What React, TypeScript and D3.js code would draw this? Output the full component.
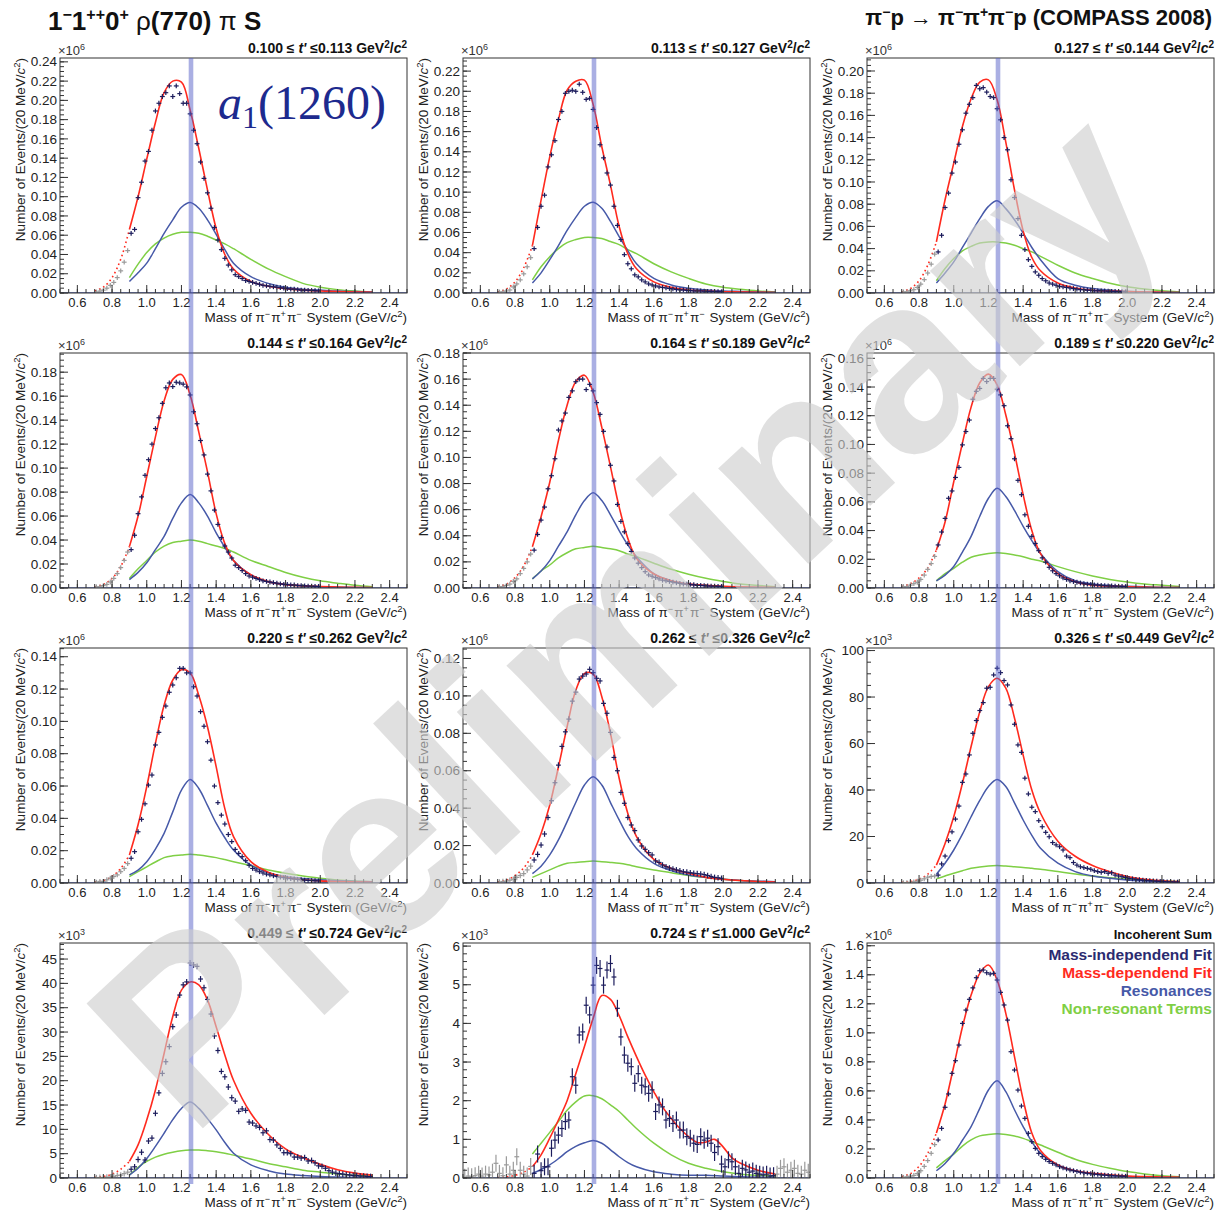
import React from "react";
import * as d3 from "d3";

// ---- layout ----
const W = 1215;
const H = 1210;
const COL_X = [60, 463, 867];
const ROW_Y = [58, 353, 648, 943];
const PW = 347;
const PH = 235;
const X_DOMAIN = [0.5, 2.5];
const BAND_MASS = 1.255;

const FONT = "'Liberation Sans', Arial, Helvetica, sans-serif";
const C_POINT = "#1c1c5c";
const C_GRAY = "#9a9a9a";
const C_RED = "#ff2a1e";
const C_BLUE = "#4659a8";
const C_GREEN = "#7fcf45";

// ---- t' bins (GeV^2/c^2) ----
const tLow = ["0.100", "0.113", "0.127", "0.144", "0.164", "0.189", "0.220", "0.262", "0.326", "0.449", "0.724"];
const tHigh = ["0.113", "0.127", "0.144", "0.164", "0.189", "0.220", "0.262", "0.326", "0.449", "0.724", "1.000"];

// ---- y axes ----
const yMax = [0.244, 0.233, 0.2117, 0.196, 0.18, 0.1637, 0.1454, 0.1256, 101.1, 48.3, 6.08, 1.619];
const yStep = [0.02, 0.02, 0.02, 0.02, 0.02, 0.02, 0.02, 0.02, 20, 5, 1, 0.2];
const yMinorDiv = [4, 4, 4, 4, 4, 4, 4, 4, 4, 5, 5, 4];
const yDecimals = [2, 2, 2, 2, 2, 2, 2, 2, 0, 0, 0, 1];
const yExponent = ["6", "6", "6", "6", "6", "6", "6", "6", "3", "3", "3", "6"];

// ---- x axis ticks ----
const xMajor = [0.6, 0.8, 1.0, 1.2, 1.4, 1.6, 1.8, 2.0, 2.2, 2.4];
const xMinorStep = 0.05;

// ---- mass-independent fit: 20 MeV bins, first bin centre per panel ----
const pointStart = [0.71, 0.71, 0.71, 0.71, 0.71, 0.71, 0.71, 0.71, 0.71, 0.71, 0.51, 0.71];
const pointError = [0.0015, 0.0015, 0.0015, 0.0015, 0.0015, 0.0015, 0.0015, 0.0015, 1.0, 0.6, 0.22, 0.01];

const massIndependent = [
  [0.001, 0.002, 0.003, 0.005, 0.008, 0.011, 0.016, 0.023, 0.032, 0.044,
    0.062, 0.066, 0.099, 0.115, 0.137, 0.147, 0.169, 0.189, 0.197, 0.204,
    0.208, 0.215, 0.204, 0.215, 0.207, 0.197, 0.197, 0.186, 0.169, 0.155,
    0.136, 0.119, 0.104, 0.088, 0.068, 0.055, 0.045, 0.036, 0.029, 0.024,
    0.019, 0.017, 0.015, 0.013, 0.012, 0.011, 0.01, 0.009, 0.008, 0.0075,
    0.007, 0.0065, 0.006, 0.0055, 0.005, 0.0045, 0.004, 0.004, 0.0035, 0.003,
    0.003, 0.0028, 0.0026, 0.0024, 0.0022],
  [0.001, 0.001, 0.002, 0.003, 0.006, 0.009, 0.013, 0.019, 0.026, 0.035,
    0.044, 0.065, 0.086, 0.097, 0.125, 0.137, 0.151, 0.172, 0.18, 0.198,
    0.2, 0.201, 0.2, 0.207, 0.199, 0.192, 0.193, 0.182, 0.164, 0.147,
    0.134, 0.119, 0.107, 0.086, 0.067, 0.053, 0.038, 0.029, 0.024, 0.018,
    0.016, 0.013, 0.011, 0.009, 0.008, 0.007, 0.006, 0.0055, 0.005, 0.0045,
    0.004, 0.0035, 0.003, 0.003, 0.0025, 0.0025, 0.002, 0.002, 0.002, 0.0018,
    0.0016, 0.0015, 0.0014, 0.0013, 0.0012],
  [0.001, 0.001, 0.002, 0.003, 0.005, 0.008, 0.012, 0.018, 0.026, 0.035,
    0.037, 0.052, 0.077, 0.09, 0.108, 0.118, 0.134, 0.147, 0.162, 0.17,
    0.176, 0.187, 0.184, 0.185, 0.181, 0.177, 0.176, 0.166, 0.156, 0.14,
    0.129, 0.102, 0.086, 0.067, 0.052, 0.039, 0.03, 0.024, 0.019, 0.016,
    0.013, 0.011, 0.009, 0.008, 0.007, 0.006, 0.0055, 0.005, 0.0045, 0.004,
    0.0035, 0.003, 0.003, 0.0025, 0.0025, 0.002, 0.002, 0.002, 0.0018, 0.0016,
    0.0015, 0.0014, 0.0013, 0.0012, 0.0011],
  [0.001, 0.001, 0.002, 0.003, 0.005, 0.008, 0.012, 0.017, 0.023, 0.03,
    0.032, 0.044, 0.062, 0.076, 0.094, 0.107, 0.12, 0.133, 0.142, 0.154,
    0.167, 0.171, 0.168, 0.1716, 0.171, 0.17, 0.1677, 0.161, 0.147, 0.137,
    0.123, 0.111, 0.095, 0.081, 0.065, 0.053, 0.042, 0.035, 0.03, 0.025,
    0.019, 0.017, 0.0145, 0.012, 0.01, 0.009, 0.008, 0.007, 0.006, 0.0055,
    0.005, 0.0045, 0.004, 0.0035, 0.003, 0.003, 0.0025, 0.0025, 0.002, 0.002,
    0.0018, 0.0016, 0.0015, 0.0014, 0.0013],
  [0.001, 0.001, 0.002, 0.003, 0.005, 0.007, 0.011, 0.015, 0.02, 0.026,
    0.029, 0.041, 0.052, 0.062, 0.076, 0.086, 0.099, 0.121, 0.128, 0.134,
    0.146, 0.151, 0.158, 0.16, 0.16, 0.152, 0.156, 0.151, 0.142, 0.133,
    0.12, 0.108, 0.094, 0.082, 0.064, 0.051, 0.043, 0.034, 0.028, 0.023,
    0.019, 0.0156, 0.0125, 0.01, 0.009, 0.008, 0.007, 0.006, 0.0055, 0.005,
    0.0045, 0.004, 0.0035, 0.003, 0.003, 0.0025, 0.0025, 0.002, 0.002, 0.0018,
    0.0016, 0.0015, 0.0014, 0.0013, 0.0012],
  [0.001, 0.001, 0.002, 0.003, 0.004, 0.006, 0.009, 0.013, 0.017, 0.022,
    0.03, 0.039, 0.0485, 0.0625, 0.0676, 0.077, 0.084, 0.0997, 0.109, 0.117,
    0.1315, 0.137, 0.139, 0.146, 0.1438, 0.146, 0.146, 0.1385, 0.1345, 0.127,
    0.113, 0.104, 0.09, 0.075, 0.065, 0.051, 0.043, 0.036, 0.031, 0.026,
    0.021, 0.018, 0.0144, 0.012, 0.01, 0.0085, 0.007, 0.006, 0.005, 0.0045,
    0.004, 0.0035, 0.003, 0.0027, 0.0025, 0.0022, 0.002, 0.0018, 0.0016, 0.0015,
    0.0014, 0.0013, 0.0012, 0.0011, 0.001],
  [0.0005, 0.001, 0.001, 0.002, 0.003, 0.004, 0.005, 0.007, 0.009, 0.012,
    0.0153, 0.0194, 0.0317, 0.0394, 0.049, 0.0606, 0.0668, 0.0854, 0.0932, 0.1025,
    0.1095, 0.118, 0.1225, 0.127, 0.1328, 0.1328, 0.13, 0.13, 0.1214, 0.1157,
    0.106, 0.097, 0.0874, 0.076, 0.06, 0.0497, 0.042, 0.0365, 0.03, 0.0256,
    0.0208, 0.0183, 0.0163, 0.0138, 0.011, 0.009, 0.008, 0.007, 0.0062, 0.0055,
    0.005, 0.0045, 0.004, 0.0036, 0.0033, 0.003, 0.0027, 0.0025, 0.0022, 0.002,
    0.0018, 0.0016, 0.0015, 0.0014, 0.0013],
  [0.0005, 0.0008, 0.001, 0.0015, 0.002, 0.003, 0.004, 0.005, 0.007, 0.009,
    0.0123, 0.0153, 0.0203, 0.0262, 0.035, 0.044, 0.0536, 0.063, 0.073, 0.0808,
    0.0876, 0.0972, 0.102, 0.109, 0.1106, 0.1117, 0.1142, 0.1124, 0.1094, 0.108,
    0.096, 0.0907, 0.0805, 0.0671, 0.06, 0.0484, 0.0426, 0.035, 0.031, 0.028,
    0.023, 0.0198, 0.018, 0.0162, 0.015, 0.0118, 0.011, 0.0096, 0.0087, 0.008,
    0.0075, 0.007, 0.0065, 0.006, 0.0058, 0.0055, 0.0052, 0.005, 0.0048, 0.0045,
    0.004, 0.0035, 0.003, 0.0028, 0.0025],
  [0.1, 0.2, 0.3, 0.5, 0.8, 1.2, 1.8, 2.5, 2.8, 3.0,
    3.4, 8.2, 11.6, 18.2, 22, 27.5, 33.1, 43.3, 46.9, 55.1,
    64.4, 69.9, 74.2, 77.6, 83.8, 84.2, 89.5, 92.4, 90.5, 87.1,
    85.2, 76.6, 68.3, 59.4, 56.2, 45.1, 38.3, 32.6, 30.7, 26.8,
    24.2, 21.8, 19.9, 17.4, 16.4, 15.6, 14.2, 11.6, 10.9, 8.8,
    7.7, 7.0, 6.6, 6.3, 5.9, 5.3, 4.9, 4.6, 4.9, 4.2,
    4.4, 3.4, 3.0, 2.7, 2.4, 2.0, 1.8, 1.6, 1.4, 1.2,
    1.1, 1.0, 0.9, 0.8, 0.7, 0.6, 0.5, 0.5, 0.4, 0.4],
  [0.05, 0.1, 0.1, 0.15, 0.2, 0.3, 0.5, 0.6, 0.9, 1.2,
    1.8, 2.3, 3.8, 5.3, 3.7, 7.6, 8.2, 13.3, 17.5, 21.5,
    23.9, 27, 31.1, 33.5, 37.6, 39.7, 40.3, 44.2, 43.8, 43.5,
    40.9, 39.1, 36.7, 33.7, 29.2, 26.2, 21.9, 20.8, 18.7, 16.5,
    15.8, 13.7, 14.2, 13.9, 11.5, 11.3, 10.7, 10.4, 9.3, 9.7,
    7.9, 7.8, 6.8, 6.1, 5.2, 5.2, 5.0, 4.3, 4.3, 4.1,
    4.2, 3.5, 3.6, 3.1, 2.5, 2.4, 2.0, 1.5, 1.2, 1.0,
    0.9, 0.8, 0.7, 0.6, 0.5, 0.5, 0.4, 0.4, 0.3, 0.3],
  [0.02, 0.05, 0.03, 0.06, 0.1, 0.05, 0.1, 0.08, 0.15, 0.38,
    0.12, 0.06, 0.34, 0.1, 0.2, 0.55, 0.2, 0.1, 0.05, 0.3,
    0.12, 0.62, 0.19, 0.29, 0.29, 0.77, 0.98, 1.11, 1.28, 1.46,
    1.5, 2.62, 2.4, 3.7, 3.78, 4.47, 4.22, 4.99, 5.5, 5.42,
    4.99, 5.38, 5.55, 5.2, 4.39, 3.65, 3.18, 2.97, 2.88, 2.45,
    2.7, 2.4, 2.36, 2.19, 2.28, 1.72, 1.89, 1.84, 1.5, 1.54,
    1.41, 1.5, 1.24, 1.24, 1.07, 1.03, 0.9, 0.87, 1.07, 0.98,
    1.03, 0.9, 0.66, 0.81, 0.36, 0.29, 0.47, 0.42, 0.29, 0.12,
    0.25, 0.21, 0.15, 0.18, 0.12, 0.1, 0.08, 0.1, 0.05, 0.06,
    0.1, 0.25, 0.29, 0.15, 0.2, 0.25, 0.12, 0.1, 0.2, 0.15],
  [0.005, 0.008, 0.012, 0.018, 0.03, 0.05, 0.08, 0.12, 0.17, 0.23,
    0.262, 0.342, 0.487, 0.579, 0.721, 0.808, 0.916, 1.065, 1.157, 1.231,
    1.31, 1.38, 1.428, 1.433, 1.414, 1.405, 1.41, 1.364, 1.279, 1.192,
    1.088, 0.87, 0.744, 0.606, 0.496, 0.411, 0.308, 0.25, 0.204, 0.17,
    0.147, 0.129, 0.113, 0.101, 0.09, 0.078, 0.07, 0.062, 0.055, 0.05,
    0.045, 0.04, 0.036, 0.033, 0.03, 0.027, 0.025, 0.022, 0.02, 0.018,
    0.016, 0.015, 0.014, 0.013, 0.012],
];

// ---- mass-dependent fit curves, sampled at these masses ----
const KNOTS = [0.9, 0.95, 1.0, 1.05, 1.1, 1.15, 1.2, 1.25, 1.3, 1.35, 1.4, 1.45, 1.5, 1.6, 1.7, 1.8, 1.9, 2.0, 2.1, 2.2, 2.3];
const KNOTS_FINE = [0.9, 0.95, 1.0, 1.05, 1.1, 1.15, 1.2, 1.25, 1.3, 1.35, 1.4, 1.45, 1.5, 1.55, 1.6, 1.65, 1.7, 1.75, 1.8, 1.85, 1.9, 1.95, 2.0, 2.05, 2.1, 2.2, 2.3];
const TAIL_KNOTS = [0.7, 0.75, 0.8, 0.85, 0.9];

const massDependent = [
  [0.066, 0.1, 0.139, 0.177, 0.208, 0.22, 0.219, 0.19, 0.15, 0.107, 0.067, 0.04, 0.025, 0.012, 0.007, 0.0045, 0.003, 0.002, 0.0015, 0.001, 0.0007],
  [0.047, 0.092, 0.135, 0.172, 0.201, 0.21, 0.211, 0.187, 0.145, 0.107, 0.066, 0.039, 0.024, 0.011, 0.0056, 0.003, 0.002, 0.0013, 0.001, 0.0007, 0.0005],
  [0.046, 0.084, 0.117, 0.15, 0.175, 0.19, 0.192, 0.174, 0.136, 0.093, 0.056, 0.032, 0.02, 0.009, 0.0045, 0.0025, 0.0017, 0.0012, 0.0009, 0.0006, 0.0004],
  [0.0345, 0.06, 0.093, 0.126, 0.156, 0.174, 0.178, 0.161, 0.13, 0.097, 0.062, 0.037, 0.023, 0.011, 0.0053, 0.0028, 0.0018, 0.0012, 0.0008, 0.0005, 0.0003],
  [0.0316, 0.0546, 0.081, 0.113, 0.14, 0.158, 0.163, 0.15, 0.123, 0.093, 0.062, 0.038, 0.0227, 0.0107, 0.0056, 0.003, 0.002, 0.0013, 0.0009, 0.0006, 0.0004],
  [0.0265, 0.046, 0.074, 0.101, 0.126, 0.143, 0.149, 0.1415, 0.1205, 0.094, 0.065, 0.04, 0.024, 0.01, 0.0044, 0.002, 0.0013, 0.0009, 0.0006, 0.0004, 0.0003],
  [0.0173, 0.036, 0.0596, 0.0864, 0.11, 0.1256, 0.132, 0.13, 0.116, 0.0967, 0.072, 0.046, 0.0287, 0.0132, 0.0066, 0.0035, 0.002, 0.0013, 0.0009, 0.0006, 0.0004],
  [0.015, 0.0265, 0.0417, 0.062, 0.0835, 0.103, 0.112, 0.1117, 0.0996, 0.08, 0.056, 0.0372, 0.0248, 0.0126, 0.0078, 0.0052, 0.003, 0.002, 0.0013, 0.0008, 0.0005],
  [7.7, 17, 28.5, 42.9, 58.7, 73.7, 84.5, 88.1, 83.8, 71, 55, 40, 30, 18, 11.5, 7.5, 4.8, 2.8, 1.6, 1.0, 0.6],
  [3.4, 6.8, 11.9, 18.1, 25.6, 33.2, 38.6, 40.3, 39.7, 36.6, 31.1, 25.3, 20.1, 13.3, 9.0, 6.0, 4.2, 2.8, 1.7, 1.0, 0.6],
  [0.29, 0.6, 1.03, 1.5, 2.0, 2.7, 3.4, 4.13, 4.72, 4.62, 4.2, 3.65, 3.14, 2.66, 2.23, 1.84, 1.54, 1.28, 1.07, 0.92, 0.93, 1.0, 0.8, 0.52, 0.38, 0.2, 0.1],
  [0.31, 0.51, 0.77, 1.04, 1.26, 1.41, 1.467, 1.364, 1.134, 0.836, 0.54, 0.31, 0.19, 0.09, 0.05, 0.032, 0.022, 0.014, 0.01, 0.007, 0.005],
];

// dotted extrapolation below the fit range (0.70 .. 0.90 GeV)
const massDependentTail = [
  [0.002, 0.006, 0.016, 0.035, 0.066],
  [0.001, 0.004, 0.011, 0.025, 0.047],
  [0.001, 0.004, 0.011, 0.025, 0.046],
  [0.001, 0.003, 0.008, 0.018, 0.0345],
  [0.001, 0.003, 0.008, 0.017, 0.0316],
  [0.001, 0.003, 0.007, 0.014, 0.0265],
  [0.0005, 0.0015, 0.004, 0.009, 0.0173],
  [0.0005, 0.0015, 0.004, 0.008, 0.015],
  [0.2, 0.6, 1.6, 3.8, 7.7],
  [0.1, 0.3, 0.8, 1.8, 3.4],
  [0.01, 0.03, 0.07, 0.15, 0.29],
  [0.01, 0.03, 0.08, 0.17, 0.31],
];

const resonances = [
  [0.012, 0.021, 0.031, 0.046, 0.062, 0.076, 0.089, 0.094, 0.088, 0.076, 0.061, 0.045, 0.031, 0.017, 0.01, 0.006, 0.004, 0.003, 0.002, 0.0015, 0.001],
  [0.01, 0.02, 0.033, 0.047, 0.062, 0.075, 0.086, 0.09, 0.084, 0.071, 0.056, 0.042, 0.029, 0.0145, 0.008, 0.0046, 0.003, 0.002, 0.0015, 0.001, 0.0007],
  [0.009, 0.018, 0.028, 0.041, 0.054, 0.067, 0.078, 0.083, 0.076, 0.066, 0.054, 0.041, 0.03, 0.013, 0.007, 0.004, 0.0025, 0.0015, 0.001, 0.0007, 0.0005],
  [0.007, 0.013, 0.021, 0.032, 0.043, 0.058, 0.071, 0.078, 0.071, 0.06, 0.046, 0.034, 0.023, 0.011, 0.005, 0.003, 0.002, 0.001, 0.0007, 0.0005, 0.0003],
  [0.007, 0.013, 0.021, 0.032, 0.043, 0.056, 0.067, 0.073, 0.067, 0.056, 0.044, 0.033, 0.024, 0.011, 0.0056, 0.003, 0.002, 0.001, 0.0007, 0.0005, 0.0003],
  [0.005, 0.009, 0.015, 0.025, 0.036, 0.05, 0.0625, 0.0695, 0.0637, 0.054, 0.043, 0.033, 0.024, 0.0114, 0.005, 0.0028, 0.0018, 0.0012, 0.0008, 0.0005, 0.0003],
  [0.005, 0.008, 0.0132, 0.021, 0.0307, 0.044, 0.0575, 0.0641, 0.0585, 0.048, 0.037, 0.028, 0.0204, 0.011, 0.0064, 0.004, 0.0028, 0.002, 0.0014, 0.001, 0.0007],
  [0.005, 0.009, 0.015, 0.023, 0.0328, 0.043, 0.0524, 0.0568, 0.0524, 0.043, 0.0337, 0.025, 0.0185, 0.0105, 0.0066, 0.0043, 0.003, 0.002, 0.0014, 0.001, 0.0007],
  [3.8, 8.5, 14.2, 21, 28.5, 35.5, 41.5, 44.5, 41.5, 34.5, 27.1, 20.5, 14.9, 8.5, 4.9, 3, 2, 1.3, 0.9, 0.6, 0.4],
  [0.6, 2, 4.0, 6.5, 9.2, 12, 14.3, 15.6, 14.3, 12.2, 9.9, 7.3, 5.1, 2.7, 1.5, 0.8, 0.5, 0.3, 0.2, 0.1, 0.1],
  [0.12, 0.22, 0.34, 0.5, 0.68, 0.82, 0.91, 0.97, 0.9, 0.73, 0.55, 0.4, 0.29, 0.16, 0.1, 0.07, 0.07, 0.05, 0.03, 0.02, 0.015],
  [0.05, 0.1, 0.17, 0.26, 0.354, 0.48, 0.606, 0.67, 0.595, 0.47, 0.354, 0.25, 0.17, 0.09, 0.05, 0.028, 0.018, 0.01, 0.007, 0.005, 0.003],
];

const nonResonant = [
  [0.016, 0.03, 0.042, 0.051, 0.057, 0.061, 0.063, 0.063, 0.062, 0.059, 0.055, 0.051, 0.046, 0.035, 0.025, 0.017, 0.01, 0.006, 0.0035, 0.002, 0.001],
  [0.013, 0.026, 0.036, 0.044, 0.05, 0.053, 0.055, 0.055, 0.054, 0.051, 0.048, 0.043, 0.039, 0.029, 0.021, 0.0145, 0.009, 0.0056, 0.0036, 0.002, 0.001],
  [0.011, 0.022, 0.031, 0.038, 0.042, 0.045, 0.046, 0.046, 0.045, 0.043, 0.04, 0.037, 0.033, 0.025, 0.018, 0.013, 0.0087, 0.0057, 0.0036, 0.002, 0.001],
  [0.008, 0.016, 0.023, 0.03, 0.035, 0.038, 0.039, 0.04, 0.039, 0.037, 0.035, 0.033, 0.03, 0.023, 0.018, 0.013, 0.009, 0.006, 0.004, 0.0022, 0.001],
  [0.007, 0.013, 0.0176, 0.023, 0.027, 0.03, 0.031, 0.032, 0.031, 0.03, 0.0286, 0.026, 0.024, 0.019, 0.0143, 0.0105, 0.0074, 0.005, 0.003, 0.002, 0.001],
  [0.005, 0.01, 0.0137, 0.018, 0.0214, 0.023, 0.024, 0.0245, 0.024, 0.023, 0.0218, 0.02, 0.0188, 0.0149, 0.0114, 0.0084, 0.006, 0.0042, 0.0028, 0.0019, 0.001],
  [0.004, 0.007, 0.01, 0.013, 0.0157, 0.0168, 0.0173, 0.0178, 0.0173, 0.0166, 0.0157, 0.0145, 0.0132, 0.0107, 0.008, 0.006, 0.0043, 0.003, 0.0019, 0.0012, 0.0008],
  [0.003, 0.005, 0.007, 0.009, 0.0105, 0.011, 0.0114, 0.0117, 0.0114, 0.011, 0.0105, 0.0097, 0.0087, 0.007, 0.0055, 0.004, 0.0029, 0.002, 0.0013, 0.0007, 0.0004],
  [1.8, 3, 4.2, 5.3, 6.3, 6.9, 7.3, 7.5, 7.3, 7.0, 6.7, 6.3, 5.9, 4.9, 3.9, 3, 2.3, 1.7, 1.2, 0.9, 0.6],
  [0.6, 2.2, 3.4, 4.3, 4.9, 5.3, 5.6, 5.75, 5.75, 5.6, 5.4, 5.1, 4.7, 3.9, 3, 2.3, 1.6, 1.2, 0.8, 0.55, 0.35],
  [0.62, 0.9, 1.18, 1.46, 1.75, 1.97, 2.12, 2.13, 2.05, 1.89, 1.72, 1.5, 1.28, 0.9, 0.6, 0.38, 0.25, 0.16, 0.1, 0.07, 0.05],
  [0.07, 0.12, 0.165, 0.22, 0.262, 0.29, 0.3, 0.305, 0.3, 0.29, 0.273, 0.25, 0.227, 0.177, 0.129, 0.094, 0.067, 0.044, 0.028, 0.016, 0.009],
];

const legendLabels = ["Mass-independend Fit", "Mass-dependend Fit", "Resonances", "Non-resonant Terms"];
const legendColors = ["#2b2b70", C_RED, C_BLUE, C_GREEN];

type Pt = [number, number];
const zip = (ks: number[], vs: number[]): Pt[] => ks.map((k, j) => [k, vs[j]] as Pt);

function Sup({ children, size = 9, up = 5 }: { children: React.ReactNode; size?: number; up?: number }) {
  return (
    <>
      <tspan dy={-up} fontSize={size}>{children}</tspan>
      <tspan dy={up}>{"\u200A"}</tspan>
    </>
  );
}

function Panel({ i }: { i: number }) {
  const col = i % 3;
  const row = Math.floor(i / 3);
  const x0 = COL_X[col];
  const y0 = ROW_Y[row];
  const x = d3.scaleLinear().domain(X_DOMAIN).range([x0, x0 + PW]);
  const y = d3.scaleLinear().domain([0, yMax[i]]).range([y0 + PH, y0]);
  const line = d3
    .line<Pt>()
    .x((d) => x(d[0]))
    .y((d) => y(d[1]))
    .curve(d3.curveCatmullRom.alpha(0.5));

  const redKnots = massDependent[i].length === KNOTS_FINE.length ? KNOTS_FINE : KNOTS;

  const nMaj = Math.floor(yMax[i] / yStep[i] + 1e-6);
  const yMaj = d3.range(nMaj + 1).map((k) => k * yStep[i]);
  const minorStep = yStep[i] / yMinorDiv[i];
  const nMin = Math.floor(yMax[i] / minorStep + 1e-6);
  const yMin = d3.range(nMin + 1).map((k) => k * minorStep);
  const fmtY = d3.format(`.${yDecimals[i]}f`);
  const nXmin = Math.round((X_DOMAIN[1] - X_DOMAIN[0]) / xMinorStep);
  const xMin = d3.range(nXmin + 1).map((k) => X_DOMAIN[0] + k * xMinorStep);
  const fmtX = d3.format(".1f");

  const pts = massIndependent[i].map((v, j) => {
    const m = pointStart[i] + 0.02 * j;
    return { m, v, fit: m > 0.899 && m < 2.301 };
  });

  const clipId = `clip-${i}`;
  const frameColor = "#333";

  return (
    <g>
      <defs>
        <clipPath id={clipId}>
          <rect x={x0} y={y0} width={PW} height={PH} />
        </clipPath>
      </defs>
      <rect x={x0} y={y0} width={PW} height={PH} fill="#fff" />

      <g clipPath={`url(#${clipId})`}>
        {/* fit components */}
        <path d={line(zip(KNOTS, nonResonant[i])) || ""} fill="none" stroke={C_GREEN} strokeWidth={1.5} />
        <path d={line(zip(KNOTS, resonances[i])) || ""} fill="none" stroke={C_BLUE} strokeWidth={1.5} />
        <path
          d={line(zip(TAIL_KNOTS, massDependentTail[i])) || ""}
          fill="none"
          stroke={C_RED}
          strokeWidth={1.6}
          strokeDasharray="1.6 3"
        />
        <path d={line(zip(redKnots, massDependent[i])) || ""} fill="none" stroke={C_RED} strokeWidth={1.6} />
        <line x1={x(X_DOMAIN[0])} x2={x(X_DOMAIN[1])} y1={y(0)} y2={y(0)} stroke={C_BLUE} strokeWidth={1.6} />

        {/* mass-independent fit points */}
        {pts.map((p, j) => {
          const cx = x(p.m);
          const cy = y(p.v);
          const ey = Math.max(Math.abs(y(p.v + pointError[i]) - cy), 2.4);
          const c = p.fit ? C_POINT : C_GRAY;
          return (
            <g key={j} stroke={c} strokeWidth={1.2}>
              <line x1={x(p.m - 0.014)} x2={x(p.m + 0.014)} y1={cy} y2={cy} />
              <line x1={cx} x2={cx} y1={cy - ey} y2={cy + ey} />
            </g>
          );
        })}
      </g>

      {/* frame */}
      <rect x={x0} y={y0} width={PW} height={PH} fill="none" stroke={frameColor} strokeWidth={1} />

      {/* y ticks */}
      {yMin.map((v, k) => (
        <line key={`ym${k}`} x1={x0} x2={x0 + 4} y1={y(v)} y2={y(v)} stroke={frameColor} strokeWidth={1} />
      ))}
      {yMaj.map((v, k) => (
        <g key={`yM${k}`}>
          <line x1={x0} x2={x0 + 8} y1={y(v)} y2={y(v)} stroke={frameColor} strokeWidth={1} />
          <text x={x0 - 3} y={y(v) + 4.6} textAnchor="end" fontSize={13.5} fill="#222">
            {fmtY(v)}
          </text>
        </g>
      ))}

      {/* x ticks */}
      {xMin.map((v, k) => (
        <line key={`xm${k}`} x1={x(v)} x2={x(v)} y1={y0 + PH} y2={y0 + PH - 4} stroke={frameColor} strokeWidth={1} />
      ))}
      {xMajor.map((v, k) => (
        <g key={`xM${k}`}>
          <line x1={x(v)} x2={x(v)} y1={y0 + PH} y2={y0 + PH - 8} stroke={frameColor} strokeWidth={1} />
          <text x={x(v)} y={y0 + PH + 14} textAnchor="middle" fontSize={13} fill="#222">
            {fmtX(v)}
          </text>
        </g>
      ))}

      {/* axis titles */}
      <text x={x0 + PW} y={y0 + PH + 29} textAnchor="end" fontSize={13.5} fill="#222">
        Mass of π<Sup>−</Sup>π<Sup>+</Sup>π<Sup>−</Sup> System (GeV/<tspan fontStyle="italic">c</tspan>
        <tspan dy={-5} fontSize={9.5}>2</tspan>
        <tspan dy={5}>)</tspan>
      </text>
      <text
        transform={`translate(${x0 - 35},${y0}) rotate(-90)`}
        textAnchor="end"
        fontSize={13.5}
        fill="#222"
      >
        Number of Events/(20 MeV/<tspan fontStyle="italic">c</tspan>
        <tspan dy={-5} fontSize={9.5}>2</tspan>
        <tspan dy={5}>)</tspan>
      </text>

      {/* exponent */}
      <text x={x0 - 2} y={y0 - 3} fontSize={13} fill="#333">
        ×10<tspan dy={-5} fontSize={9}>{yExponent[i]}</tspan>
      </text>

      {/* t' range header */}
      {i < tLow.length ? (
        <text x={x0 + PW} y={y0 - 5} textAnchor="end" fontSize={14} fontWeight="bold" fill="#111">
          {`${tLow[i]} ≤  `}
          <tspan fontStyle="italic">t'</tspan>
          {` ≤${tHigh[i]} GeV`}
          <tspan dy={-5} fontSize={10}>2</tspan>
          <tspan dy={5}>/</tspan>
          <tspan fontStyle="italic">c</tspan>
          <tspan dy={-5} fontSize={10}>2</tspan>
        </text>
      ) : (
        <text x={x0 + PW - 2} y={y0 - 4} textAnchor="end" fontSize={13} fontWeight="bold" fill="#111">
          Incoherent Sum
        </text>
      )}
    </g>
  );
}

export default function App() {
  const bandTop = ROW_Y[0];
  const bandBottom = ROW_Y[3] + PH + 6;
  return (
    <svg
      width={W}
      height={H}
      viewBox={`0 0 ${W} ${H}`}
      style={{ position: "absolute", left: 0, top: 0, background: "#fff" }}
      fontFamily={FONT}
    >
      <rect x={0} y={0} width={W} height={H} fill="#fff" />

      {/* titles */}
      <text x={48} y={30} fontSize={26} fontWeight="bold" fill="#111">
        1<tspan dy={-10} fontSize={16}>−</tspan>
        <tspan dy={10}>1</tspan>
        <tspan dy={-10} fontSize={16}>++</tspan>
        <tspan dy={10}>0</tspan>
        <tspan dy={-10} fontSize={16}>+</tspan>
        <tspan dy={10} fontWeight="normal">{"  ρ"}</tspan>
        <tspan>(770)</tspan>
        <tspan fontWeight="normal">{"  π "}</tspan>
        <tspan>S</tspan>
      </text>
      <text x={1212} y={25} textAnchor="end" fontSize={22} fontWeight="bold" fill="#111">
        π<tspan dy={-8} fontSize={14}>−</tspan>
        <tspan dy={8}>p  →  π</tspan>
        <tspan dy={-8} fontSize={14}>−</tspan>
        <tspan dy={8}>π</tspan>
        <tspan dy={-8} fontSize={14}>+</tspan>
        <tspan dy={8}>π</tspan>
        <tspan dy={-8} fontSize={14}>−</tspan>
        <tspan dy={8}>p (COMPASS 2008)</tspan>
      </text>

      {d3.range(12).map((i) => (
        <Panel key={i} i={i} />
      ))}

      {/* a1(1260) label */}
      <text x={218} y={119} fontFamily="'Liberation Serif', 'DejaVu Serif', serif" fontSize={48} fill="#1d2a8e">
        <tspan fontStyle="italic">a</tspan>
        <tspan dy={9} fontSize={32}>1</tspan>
        <tspan dy={-9}>(1260)</tspan>
      </text>

      {/* legend */}
      {legendLabels.map((t, k) => (
        <text
          key={t}
          x={1212}
          y={960 + k * 18}
          textAnchor="end"
          fontSize={15.5}
          fontWeight="bold"
          fill={legendColors[k]}
        >
          {t}
        </text>
      ))}

      {/* a1 mass band */}
      {COL_X.map((cx, c) => {
        const xs = d3.scaleLinear().domain(X_DOMAIN).range([cx, cx + PW]);
        return (
          <rect
            key={c}
            x={xs(BAND_MASS) - 2.3}
            y={bandTop}
            width={4.6}
            height={bandBottom - bandTop}
            fill="#5560c8"
            opacity={0.5}
          />
        );
      })}

      {/* watermark */}
      <text
        x={626}
        y={616}
        transform="rotate(-43 626 616)"
        textAnchor="middle"
        dominantBaseline="central"
        fontSize={248}
        fontWeight="bold"
        fill="#cecece"
        opacity={0.62}
      >
        Preliminary
      </text>
    </svg>
  );
}
